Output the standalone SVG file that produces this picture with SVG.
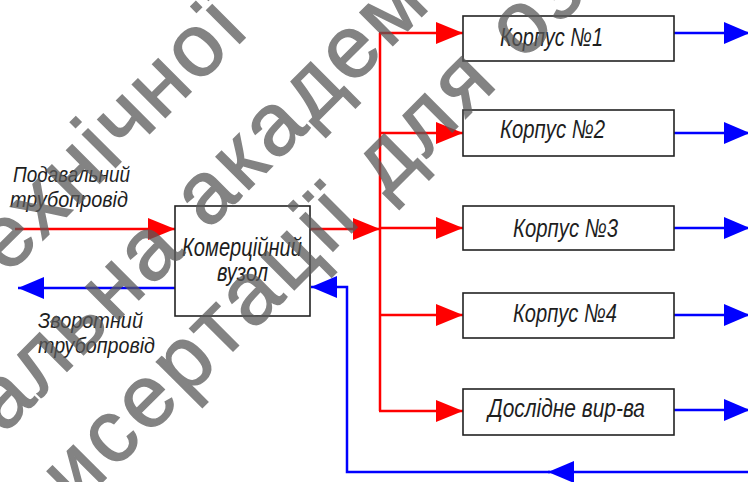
<svg xmlns="http://www.w3.org/2000/svg" width="748" height="482" viewBox="0 0 748 482">
<style>
.bg{fill:#ffffff}
.box{fill:#ffffff;stroke:#222222;stroke-width:1.6}
.t{font-family:"Liberation Sans","DejaVu Sans",sans-serif;font-style:italic;fill:#1e1e1e}
.tb{font-size:26px}
.tm{font-size:25px}
.ts{font-size:22px}
.red{fill:none;stroke:#ff0000;stroke-width:2.5}
.blue{fill:none;stroke:#0000ff;stroke-width:2.5}
.wm{font-family:"Liberation Sans","DejaVu Sans",sans-serif;font-size:88px;fill:#5a5a5a;stroke:#5a5a5a;stroke-width:1.5}
</style>
<defs>
<marker id="ar" viewBox="0 0 27 22" markerWidth="27" markerHeight="22" refX="27" refY="11" orient="auto" markerUnits="userSpaceOnUse">
<path d="M0,0 L27,11 L0,22 Z" fill="#ff0000"/>
</marker>
<marker id="ab" viewBox="0 0 26 22" markerWidth="26" markerHeight="22" refX="26" refY="11" orient="auto" markerUnits="userSpaceOnUse">
<path d="M0,0 L26,11 L0,22 Z" fill="#0000ff"/>
</marker>
</defs>
<rect class="bg" x="0" y="0" width="748" height="482"/>

<g id="connectors">
<line class="red" x1="15" y1="229" x2="175" y2="229" marker-end="url(#ar)"/>
<line class="red" x1="310" y1="229" x2="380" y2="229" marker-end="url(#ar)"/>
<line class="red" x1="380" y1="33" x2="380" y2="411"/>
<line class="red" x1="379" y1="33" x2="463" y2="33" marker-end="url(#ar)"/>
<line class="red" x1="380" y1="133" x2="463" y2="133" marker-end="url(#ar)"/>
<line class="red" x1="380" y1="228" x2="463" y2="228" marker-end="url(#ar)"/>
<line class="red" x1="380" y1="315" x2="463" y2="315" marker-end="url(#ar)"/>
<line class="red" x1="379" y1="411" x2="463" y2="411" marker-end="url(#ar)"/>
<line class="blue" x1="674" y1="33" x2="750" y2="33" marker-end="url(#ab)"/>
<line class="blue" x1="674" y1="133" x2="750" y2="133" marker-end="url(#ab)"/>
<line class="blue" x1="674" y1="228" x2="750" y2="228" marker-end="url(#ab)"/>
<line class="blue" x1="674" y1="315" x2="750" y2="315" marker-end="url(#ab)"/>
<line class="blue" x1="674" y1="410" x2="750" y2="410" marker-end="url(#ab)"/>
<line class="blue" x1="750" y1="472" x2="548" y2="472" marker-end="url(#ab)"/>
<path class="blue" d="M550,472 L347,472 L347,287 L311,287" marker-end="url(#ab)"/>
<line class="blue" x1="175" y1="288" x2="18" y2="288" marker-end="url(#ab)"/>
</g>

<g id="supply-label">
<text class="t ts" x="13" y="182" textLength="117" lengthAdjust="spacingAndGlyphs">Подавальний</text>
<text class="t ts" x="10" y="207" textLength="118" lengthAdjust="spacingAndGlyphs">трубопровід</text>
</g>
<g id="return-label">
<text class="t ts" x="38" y="328" textLength="105" lengthAdjust="spacingAndGlyphs">Зворотний</text>
<text class="t ts" x="38" y="353" textLength="117" lengthAdjust="spacingAndGlyphs">трубопровід</text>
</g>

<g id="node-vuzol">
<rect class="box" x="175" y="206" width="135" height="110"/>
<text class="t tm" x="182" y="256" textLength="120" lengthAdjust="spacingAndGlyphs">Комерційний</text>
<text class="t tm" x="217" y="281" textLength="51" lengthAdjust="spacingAndGlyphs">вузол</text>
</g>
<g id="node-k1">
<rect class="box" x="463" y="16" width="211" height="45"/>
<text class="t tb" x="500" y="46" textLength="103" lengthAdjust="spacingAndGlyphs">Корпус №1</text>
</g>
<g id="node-k2">
<rect class="box" x="463" y="110" width="211" height="46"/>
<text class="t tb" x="500" y="138" textLength="105" lengthAdjust="spacingAndGlyphs">Корпус №2</text>
</g>
<g id="node-k3">
<rect class="box" x="463" y="206" width="211" height="44"/>
<text class="t tb" x="513" y="237" textLength="105" lengthAdjust="spacingAndGlyphs">Корпус №3</text>
</g>
<g id="node-k4">
<rect class="box" x="463" y="293" width="211" height="45"/>
<text class="t tb" x="513" y="322" textLength="104" lengthAdjust="spacingAndGlyphs">Корпус №4</text>
</g>
<g id="node-doslidne">
<rect class="box" x="463" y="389" width="211" height="46"/>
<text class="t tb" x="488" y="417" textLength="157" lengthAdjust="spacingAndGlyphs">Дослідне вир-ва</text>
</g>

<g id="watermark" transform="rotate(-45)" opacity="0.75">
<text class="wm" x="-190" y="200" textLength="345">ехнічної</text>
<text class="wm" x="-305" y="310" textLength="605">альна академ</text>
<text class="wm" x="-306" y="413" textLength="724">исертації для оз</text>
</g>
</svg>
